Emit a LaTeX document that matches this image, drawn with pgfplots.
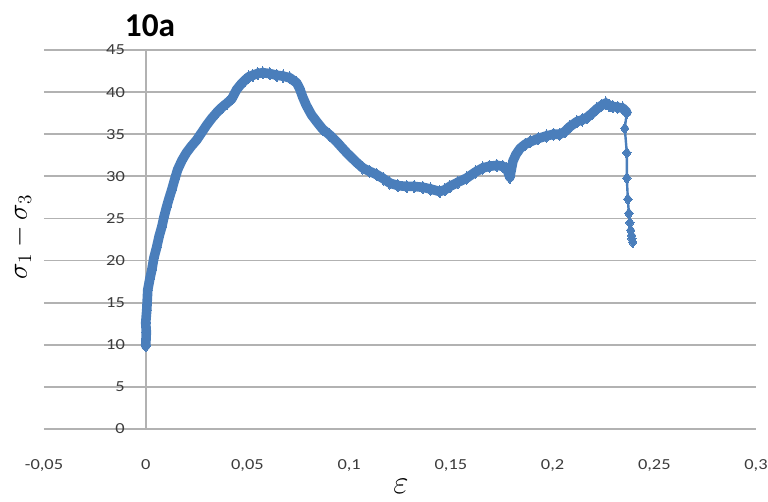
\documentclass[border=0pt]{standalone}
\usepackage{fontspec}
\setmainfont{Carlito}
\newfontfamily\tickfont{Carlito}[FakeStretch=1.2]
\usepackage{pgfplots}
\pgfplotsset{compat=1.18}
\definecolor{ser}{RGB}{74,126,187}
\definecolor{grd}{RGB}{178,178,178}
\definecolor{tck}{RGB}{60,60,60}

\pgfplotstableread{
x y
0 9.9
0.0003 11.5
0.0 12.6
0.0005 14.1
0.001 16.5
0.002 17.8
0.003 18.9
0.004 20.3
0.0054 21.6
0.0066 22.9
0.0079 24.0
0.009 25.2
0.0103 26.4
0.0115 27.4
0.0128 28.4
0.0142 29.6
0.0157 30.8
0.0178 31.9
0.020 32.8
0.0225 33.6
0.025 34.3
0.0275 35.2
0.030 36.1
0.0325 36.9
0.035 37.6
0.0375 38.2
0.040 38.7
0.0423 39.2
0.0447 40.3
0.0467 40.9
0.0487 41.4
0.0506 41.8
0.0526 42.0
0.055 42.2
0.0575 42.3
0.061 42.2
0.0644 42.0
0.0675 41.9
0.0708 41.7
0.0742 41.1
0.0757 40.4
0.0772 39.4
0.079 38.4
0.0815 37.3
0.084 36.5
0.087 35.6
0.0905 34.9
0.0939 34.1
0.0965 33.4
0.0988 32.8
0.103 31.8
0.1067 31.0
0.110 30.6
0.1136 30.2
0.117 29.7
0.120 29.2
0.124 28.9
0.1283 28.8
0.132 28.8
0.1362 28.7
0.140 28.5
0.1445 28.2
0.147 28.4
0.1495 28.8
0.1535 29.3
0.1578 29.8
0.162 30.5
0.1657 31.0
0.169 31.2
0.1726 31.3
0.1755 31.2
0.1775 30.9
0.179 29.9
0.1805 31.8
0.182 32.6
0.184 33.3
0.1865 33.8
0.189 34.1
0.193 34.5
0.197 34.8
0.2005 35.0
0.2035 35.0
0.206 35.3
0.2085 35.9
0.212 36.5
0.2145 36.7
0.217 37.0
0.2195 37.5
0.2217 38.0
0.224 38.4
0.2262 38.7
0.228 38.4
0.2296 38.3
0.232 38.2
0.2345 38.1
0.2365 37.6
}\mainseg

\pgfplotstableread{
x y
0.2365 37.6
0.2355 35.7
0.2365 32.8
0.2365 29.8
0.237 27.3
0.2375 25.6
0.238 24.5
0.2384 23.6
0.2388 23.0
0.239 22.6
0.2394 22.2
}\dropseg

\begin{document}
\begin{tikzpicture}
\useasboundingbox (-33pt,-54pt) rectangle (543pt,321.75pt);
\begin{axis}[
  at={(0,0)}, anchor=south west,
  scale only axis, width=534pt, height=284.25pt,
  xmin=-0.05, xmax=0.3, ymin=0, ymax=45,
  axis lines=middle,
  axis line style={-, draw=grd, line width=1.3pt},
  hide obscured x ticks=false, hide obscured y ticks=false,
  xtick={-0.05,0,0.05,0.1,0.15,0.2,0.25,0.3},
  xticklabels={{-0,05},{0},{0,05},{0,1},{0,15},{0,2},{0,25},{0,3}},
  ytick={0,5,10,15,20,25,30,35,40,45},
  yticklabels={0,5,10,15,20,25,30,35,40,45},
  ymajorgrids,
  grid style={draw=grd, line width=1.3pt},
  major tick style={draw=none},
  x tick label style={font=\tickfont\fontsize{11.5}{13}\selectfont, text=tck, yshift=-17pt},
  y tick label style={font=\tickfont\fontsize{11.5}{13}\selectfont, text=tck, xshift=-10pt},
  clip=false,
]
\addplot[ser, line width=7.2pt, line join=round, line cap=round,
  mark=diamond*, mark size=4.6pt, mark options={ser, line width=0pt}] table[x=x,y=y] {\mainseg};
\addplot[ser, line width=1.8pt, mark=diamond*, mark size=4.2pt,
  mark options={ser, line width=0pt}] table[x=x,y=y] {\dropseg};
\end{axis}
\node[font=\bfseries\fontsize{25}{28}\selectfont] at (79.5pt,302.25pt) {10a};
\node[rotate=90, anchor=base, font=\fontsize{21}{25}\selectfont] at (-12.75pt,144pt) {$\sigma_1 - \sigma_3$};
\node[anchor=base, font=\fontsize{30}{33}\selectfont] at (267.75pt,-48.5pt) {$\varepsilon$};
\end{tikzpicture}
\end{document}
